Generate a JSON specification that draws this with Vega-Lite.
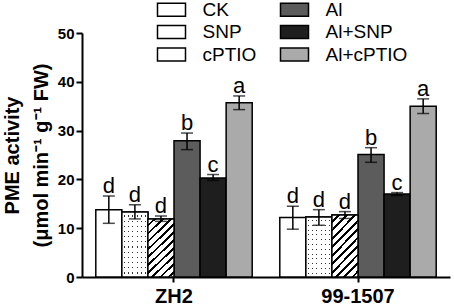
{
  "$schema": "https://vega.github.io/schema/vega-lite/v6.json",
  "width": 368,
  "height": 244,
  "autosize": {"type": "none"},
  "padding": {"left": 82, "top": 33, "right": 4, "bottom": 28},
  "config": {
    "view": {"stroke": null}, "font": "Liberation Sans",
    "axis": {"grid": false, "domainColor": "black", "domainWidth": 2, "tickColor": "black", "tickWidth": 2, "labelColor": "black", "titleColor": "black"},
    "axisY": {"values": [0, 10, 20, 30, 40, 50], "titleFontSize": 20, "titleFontWeight": "bold", "titleLineHeight": 29, "titlePadding": 6, "tickSize": 6, "labelFontSize": 15, "labelFontWeight": "bold", "labelPadding": 2},
    "axisX": {"labelAngle": 0, "tickSize": 5, "labelFontSize": 20, "labelFontWeight": "bold", "labelPadding": 4}
  },
  "data": {"values": [
    {"cultivar": "ZH2", "trt": "CK", "mean": 13.8, "lo": 11.0, "hi": 16.6, "letter": "d"},
    {"cultivar": "ZH2", "trt": "SNP", "mean": 13.3, "lo": 11.9, "hi": 14.8, "letter": "d"},
    {"cultivar": "ZH2", "trt": "cPTIO", "mean": 11.9, "lo": 11.4, "hi": 12.5, "letter": "d"},
    {"cultivar": "ZH2", "trt": "Al", "mean": 27.9, "lo": 26.1, "hi": 29.5, "letter": "b"},
    {"cultivar": "ZH2", "trt": "Al+SNP", "mean": 20.3, "lo": 19.8, "hi": 21.0, "letter": "c"},
    {"cultivar": "ZH2", "trt": "Al+cPTIO", "mean": 35.7, "lo": 34.3, "hi": 37.1, "letter": "a"},
    {"cultivar": "99-1507", "trt": "CK", "mean": 12.2, "lo": 9.8, "hi": 14.5, "letter": "d"},
    {"cultivar": "99-1507", "trt": "SNP", "mean": 12.3, "lo": 10.6, "hi": 13.8, "letter": "d"},
    {"cultivar": "99-1507", "trt": "cPTIO", "mean": 12.7, "lo": 12.0, "hi": 13.4, "letter": "d"},
    {"cultivar": "99-1507", "trt": "Al", "mean": 25.1, "lo": 23.5, "hi": 26.5, "letter": "b"},
    {"cultivar": "99-1507", "trt": "Al+SNP", "mean": 17.0, "lo": 16.7, "hi": 17.3, "letter": "c"},
    {"cultivar": "99-1507", "trt": "Al+cPTIO", "mean": 35.0, "lo": 33.5, "hi": 36.5, "letter": "a"}
  ]},
  "encoding": {
    "x": {
      "field": "cultivar", "type": "nominal", "sort": ["ZH2", "99-1507"], "title": null,
      "scale": {"paddingInner": 0.15, "paddingOuter": 0.075}
    },
    "xOffset": {"field": "trt", "type": "nominal", "sort": ["CK", "SNP", "cPTIO", "Al", "Al+SNP", "Al+cPTIO"], "scale": {"paddingInner": 0, "paddingOuter": 0}}
  },
  "layer": [
    {
      "mark": {"type": "bar", "stroke": "black", "strokeWidth": 1.5},
      "encoding": {
        "y": {"field": "mean", "type": "quantitative", "scale": {"domain": [0, 50], "nice": false}, "title": ["PME activity", "(μmol min⁻¹ g⁻¹ FW)"]},
        "fill": {
          "field": "trt", "type": "nominal",
          "scale": {"domain": ["CK", "SNP", "cPTIO", "Al", "Al+SNP", "Al+cPTIO"], "range": ["#ffffff", "#ffffff", "#ffffff", "#5c5c5c", "#1e1e1e", "#aaaaaa"]},
          "legend": {
            "title": null, "orient": "none", "legendX": 80, "legendY": -33, "columns": 2, "padding": 0,
            "columnPadding": 20, "rowPadding": 2.5,
            "symbolType": "M-2.154,-1L2.154,-1L2.154,1L-2.154,1Z", "symbolSize": 169,
            "symbolStrokeColor": "black", "symbolStrokeWidth": 1.5,
            "labelFontSize": 19, "labelColor": "black", "labelOffset": 21.5,
            "encode": {"symbols": {"update": {
              "stroke": {"value": "black"},
              "strokeWidth": {"value": 1.5},
              "opacity": {"value": 1},
              "fill": {"value": {"expr": "datum.value === 'SNP' ? {gradient:'linear',x1:0,y1:0,x2:1,y2:0,stops:[{offset:0,color:'#ffffff'},{offset:0.09,color:'#ffffff'},{offset:0.09,color:'#999999'},{offset:0.125,color:'#999999'},{offset:0.125,color:'#ffffff'},{offset:0.233,color:'#ffffff'},{offset:0.233,color:'#999999'},{offset:0.268,color:'#999999'},{offset:0.268,color:'#ffffff'},{offset:0.376,color:'#ffffff'},{offset:0.376,color:'#999999'},{offset:0.411,color:'#999999'},{offset:0.411,color:'#ffffff'},{offset:0.519,color:'#ffffff'},{offset:0.519,color:'#999999'},{offset:0.554,color:'#999999'},{offset:0.554,color:'#ffffff'},{offset:0.662,color:'#ffffff'},{offset:0.662,color:'#999999'},{offset:0.697,color:'#999999'},{offset:0.697,color:'#ffffff'},{offset:0.805,color:'#ffffff'},{offset:0.805,color:'#999999'},{offset:0.84,color:'#999999'},{offset:0.84,color:'#ffffff'},{offset:1,color:'#ffffff'}]} : datum.value === 'cPTIO' ? {gradient:'linear',x1:0,y1:0,x2:1.5,y2:0.696,stops:[{offset:0,color:'#ffffff'},{offset:0.095,color:'#ffffff'},{offset:0.095,color:'#000000'},{offset:0.137,color:'#000000'},{offset:0.137,color:'#ffffff'},{offset:0.232,color:'#ffffff'},{offset:0.232,color:'#000000'},{offset:0.274,color:'#000000'},{offset:0.274,color:'#ffffff'},{offset:0.369,color:'#ffffff'},{offset:0.369,color:'#000000'},{offset:0.411,color:'#000000'},{offset:0.411,color:'#ffffff'},{offset:0.506,color:'#ffffff'},{offset:0.506,color:'#000000'},{offset:0.548,color:'#000000'},{offset:0.548,color:'#ffffff'},{offset:0.643,color:'#ffffff'},{offset:0.643,color:'#000000'},{offset:0.685,color:'#000000'},{offset:0.685,color:'#ffffff'},{offset:0.78,color:'#ffffff'},{offset:0.78,color:'#000000'},{offset:0.822,color:'#000000'},{offset:0.822,color:'#ffffff'},{offset:1,color:'#ffffff'}]} : scale('fill', datum.value)"}}
            }}}
          }
        }
      }
    },
    {
      "transform": [{"filter": "datum.trt === 'SNP'"}],
      "mark": {"type": "bar", "strokeWidth": 0, "fill": {"gradient": "linear", "x1": 0, "y1": 0, "x2": 1, "y2": 0, "stops": [
        {"offset": 0, "color": "#ffffff"}, {"offset": 0.07, "color": "#ffffff"}, {"offset": 0.07, "color": "#333333"}, {"offset": 0.11, "color": "#333333"}, {"offset": 0.11, "color": "#ffffff"},
        {"offset": 0.237, "color": "#ffffff"}, {"offset": 0.237, "color": "#333333"}, {"offset": 0.277, "color": "#333333"}, {"offset": 0.277, "color": "#ffffff"},
        {"offset": 0.403, "color": "#ffffff"}, {"offset": 0.403, "color": "#333333"}, {"offset": 0.443, "color": "#333333"}, {"offset": 0.443, "color": "#ffffff"},
        {"offset": 0.57, "color": "#ffffff"}, {"offset": 0.57, "color": "#333333"}, {"offset": 0.61, "color": "#333333"}, {"offset": 0.61, "color": "#ffffff"},
        {"offset": 0.737, "color": "#ffffff"}, {"offset": 0.737, "color": "#333333"}, {"offset": 0.777, "color": "#333333"}, {"offset": 0.777, "color": "#ffffff"},
        {"offset": 0.903, "color": "#ffffff"}, {"offset": 0.903, "color": "#333333"}, {"offset": 0.943, "color": "#333333"}, {"offset": 0.943, "color": "#ffffff"},
        {"offset": 1, "color": "#ffffff"}]}},
      "encoding": {"y": {"field": "mean", "type": "quantitative", "title": ["PME activity", "(μmol min⁻¹ g⁻¹ FW)"]}}
    },
    {
      "transform": [{"filter": "datum.trt === 'SNP'"}],
      "mark": {"type": "bar", "stroke": "black", "strokeWidth": 1.5, "fill": {"gradient": "linear", "x1": 0, "y1": 0, "x2": 0, "y2": 1, "stops": [
        {"offset": 0, "color": "#ffffff"}, {"offset": 0.05, "color": "#ffffff"}, {"offset": 0.05, "color": "rgba(255,255,255,0)"}, {"offset": 0.068, "color": "rgba(255,255,255,0)"}, {"offset": 0.068, "color": "#ffffff"},
        {"offset": 0.13, "color": "#ffffff"}, {"offset": 0.13, "color": "rgba(255,255,255,0)"}, {"offset": 0.148, "color": "rgba(255,255,255,0)"}, {"offset": 0.148, "color": "#ffffff"},
        {"offset": 0.21, "color": "#ffffff"}, {"offset": 0.21, "color": "rgba(255,255,255,0)"}, {"offset": 0.228, "color": "rgba(255,255,255,0)"}, {"offset": 0.228, "color": "#ffffff"},
        {"offset": 0.29, "color": "#ffffff"}, {"offset": 0.29, "color": "rgba(255,255,255,0)"}, {"offset": 0.308, "color": "rgba(255,255,255,0)"}, {"offset": 0.308, "color": "#ffffff"},
        {"offset": 0.37, "color": "#ffffff"}, {"offset": 0.37, "color": "rgba(255,255,255,0)"}, {"offset": 0.388, "color": "rgba(255,255,255,0)"}, {"offset": 0.388, "color": "#ffffff"},
        {"offset": 0.45, "color": "#ffffff"}, {"offset": 0.45, "color": "rgba(255,255,255,0)"}, {"offset": 0.468, "color": "rgba(255,255,255,0)"}, {"offset": 0.468, "color": "#ffffff"},
        {"offset": 0.53, "color": "#ffffff"}, {"offset": 0.53, "color": "rgba(255,255,255,0)"}, {"offset": 0.548, "color": "rgba(255,255,255,0)"}, {"offset": 0.548, "color": "#ffffff"},
        {"offset": 0.61, "color": "#ffffff"}, {"offset": 0.61, "color": "rgba(255,255,255,0)"}, {"offset": 0.628, "color": "rgba(255,255,255,0)"}, {"offset": 0.628, "color": "#ffffff"},
        {"offset": 0.69, "color": "#ffffff"}, {"offset": 0.69, "color": "rgba(255,255,255,0)"}, {"offset": 0.708, "color": "rgba(255,255,255,0)"}, {"offset": 0.708, "color": "#ffffff"},
        {"offset": 0.77, "color": "#ffffff"}, {"offset": 0.77, "color": "rgba(255,255,255,0)"}, {"offset": 0.788, "color": "rgba(255,255,255,0)"}, {"offset": 0.788, "color": "#ffffff"},
        {"offset": 0.85, "color": "#ffffff"}, {"offset": 0.85, "color": "rgba(255,255,255,0)"}, {"offset": 0.868, "color": "rgba(255,255,255,0)"}, {"offset": 0.868, "color": "#ffffff"},
        {"offset": 0.93, "color": "#ffffff"}, {"offset": 0.93, "color": "rgba(255,255,255,0)"}, {"offset": 0.948, "color": "rgba(255,255,255,0)"}, {"offset": 0.948, "color": "#ffffff"},
        {"offset": 1, "color": "#ffffff"}]}},
      "encoding": {"y": {"field": "mean", "type": "quantitative", "title": ["PME activity", "(μmol min⁻¹ g⁻¹ FW)"]}}
    },
    {
      "transform": [{"filter": "datum.trt === 'cPTIO'"}],
      "mark": {"type": "bar", "stroke": "black", "strokeWidth": 1.5, "fill": {"gradient": "linear", "x1": 0, "y1": 0, "x2": 1, "y2": 2.3, "stops": [
        {"offset": 0, "color": "#ffffff"}, {"offset": 0.033, "color": "#ffffff"}, {"offset": 0.033, "color": "#000000"}, {"offset": 0.05, "color": "#000000"}, {"offset": 0.05, "color": "#ffffff"},
        {"offset": 0.083, "color": "#ffffff"}, {"offset": 0.083, "color": "#000000"}, {"offset": 0.1, "color": "#000000"}, {"offset": 0.1, "color": "#ffffff"},
        {"offset": 0.133, "color": "#ffffff"}, {"offset": 0.133, "color": "#000000"}, {"offset": 0.15, "color": "#000000"}, {"offset": 0.15, "color": "#ffffff"},
        {"offset": 0.183, "color": "#ffffff"}, {"offset": 0.183, "color": "#000000"}, {"offset": 0.2, "color": "#000000"}, {"offset": 0.2, "color": "#ffffff"},
        {"offset": 0.233, "color": "#ffffff"}, {"offset": 0.233, "color": "#000000"}, {"offset": 0.25, "color": "#000000"}, {"offset": 0.25, "color": "#ffffff"},
        {"offset": 0.283, "color": "#ffffff"}, {"offset": 0.283, "color": "#000000"}, {"offset": 0.3, "color": "#000000"}, {"offset": 0.3, "color": "#ffffff"},
        {"offset": 0.333, "color": "#ffffff"}, {"offset": 0.333, "color": "#000000"}, {"offset": 0.35, "color": "#000000"}, {"offset": 0.35, "color": "#ffffff"},
        {"offset": 0.383, "color": "#ffffff"}, {"offset": 0.383, "color": "#000000"}, {"offset": 0.4, "color": "#000000"}, {"offset": 0.4, "color": "#ffffff"},
        {"offset": 0.433, "color": "#ffffff"}, {"offset": 0.433, "color": "#000000"}, {"offset": 0.45, "color": "#000000"}, {"offset": 0.45, "color": "#ffffff"},
        {"offset": 0.483, "color": "#ffffff"}, {"offset": 0.483, "color": "#000000"}, {"offset": 0.5, "color": "#000000"}, {"offset": 0.5, "color": "#ffffff"},
        {"offset": 0.533, "color": "#ffffff"}, {"offset": 0.533, "color": "#000000"}, {"offset": 0.55, "color": "#000000"}, {"offset": 0.55, "color": "#ffffff"},
        {"offset": 1, "color": "#ffffff"}]}},
      "encoding": {"y": {"field": "mean", "type": "quantitative", "title": ["PME activity", "(μmol min⁻¹ g⁻¹ FW)"]}}
    },
    {
      "mark": {"type": "rule", "color": "black", "strokeWidth": 1.5},
      "encoding": {"y": {"field": "lo", "type": "quantitative", "title": ["PME activity", "(μmol min⁻¹ g⁻¹ FW)"]}, "y2": {"field": "hi"}}
    },
    {
      "mark": {"type": "tick", "color": "black", "thickness": 1.5, "size": 12},
      "encoding": {"y": {"field": "hi", "type": "quantitative", "title": ["PME activity", "(μmol min⁻¹ g⁻¹ FW)"]}}
    },
    {
      "mark": {"type": "tick", "color": "black", "thickness": 1.5, "size": 12},
      "encoding": {"y": {"field": "lo", "type": "quantitative", "title": ["PME activity", "(μmol min⁻¹ g⁻¹ FW)"]}}
    },
    {
      "mark": {"type": "text", "baseline": "alphabetic", "dy": -3, "fontSize": 22, "color": "black"},
      "encoding": {"y": {"field": "hi", "type": "quantitative", "title": ["PME activity", "(μmol min⁻¹ g⁻¹ FW)"]}, "text": {"field": "letter"}}
    }
  ]
}
